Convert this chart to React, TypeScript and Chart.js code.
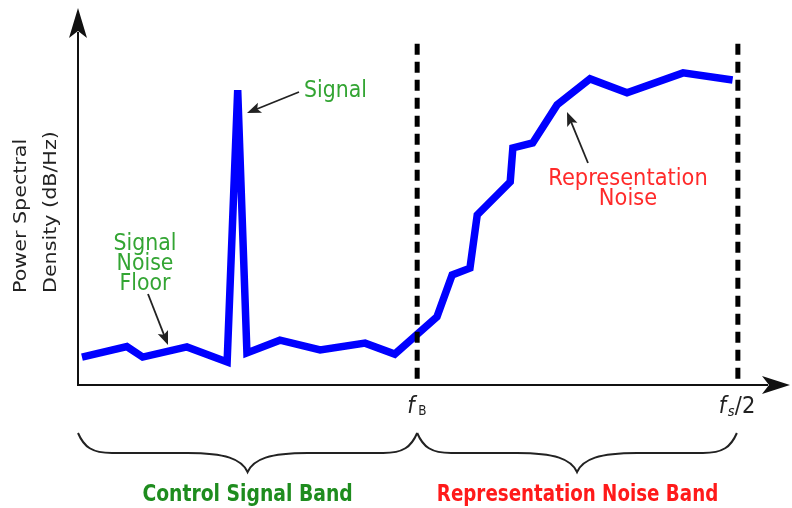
import React, { useEffect, useRef } from "react";
import { Chart, registerables } from "chart.js";

Chart.register(...registerables);

// Frequency (normalised so that fs/2 = 100) and power spectral density (0..100 arbitrary dB scale)
const FREQ = [0.6, 7.4, 9.8, 16.5, 22.6, 24.2, 25.6, 30.6, 36.7, 43.5, 48.0, 54.4, 56.7, 59.4, 60.5, 65.5, 65.9, 68.9, 72.6, 77.6, 83.2, 91.7, 99.2];
const PSD = [7.4, 10.2, 7.4, 10.1, 6.1, 78.2, 8.5, 11.9, 9.3, 11.1, 8.2, 18.1, 29.2, 31.0, 45.1, 53.9, 62.9, 64.2, 74.3, 81.2, 77.5, 82.8, 80.9];
const F_B = 51.4;
const F_S2 = 100;
const X_MAX = 107.9;
const Y_MAX = 100;
const MARKER_TOP = 90.5;
const BAND_LABELS = ["Control Signal Band", "Representation Noise Band"];

const FONT = "DejaVu Sans";

function txt(
  ctx: CanvasRenderingContext2D,
  s: string,
  x: number,
  y: number,
  font: string,
  color: string,
  align: CanvasTextAlign = "left",
  stretch = 1,
  rot = false
) {
  ctx.save();
  ctx.translate(x, y);
  if (rot) {
    ctx.rotate(-Math.PI / 2);
    ctx.scale(stretch, 1);
  } else {
    ctx.scale(1, stretch);
  }
  ctx.font = font;
  ctx.fillStyle = color;
  ctx.textAlign = align;
  ctx.textBaseline = "alphabetic";
  ctx.fillText(s, 0, 0);
  ctx.restore();
}

function arrowHead(ctx: CanvasRenderingContext2D, fx: number, fy: number, tx: number, ty: number, len: number, half: number, notch: number) {
  const a = Math.atan2(ty - fy, tx - fx);
  const c = Math.cos(a), s = Math.sin(a);
  const bx = tx - c * len, by = ty - s * len;
  ctx.beginPath();
  ctx.moveTo(tx, ty);
  ctx.lineTo(bx - s * half, by + c * half);
  ctx.lineTo(tx - c * (len - notch), ty - s * (len - notch));
  ctx.lineTo(bx + s * half, by - c * half);
  ctx.closePath();
  ctx.fill();
}

function pointer(ctx: CanvasRenderingContext2D, fx: number, fy: number, tx: number, ty: number) {
  ctx.save();
  ctx.strokeStyle = "#222";
  ctx.fillStyle = "#222";
  ctx.lineWidth = 1.8;
  const a = Math.atan2(ty - fy, tx - fx);
  ctx.beginPath();
  ctx.moveTo(fx, fy);
  ctx.lineTo(tx - Math.cos(a) * 8, ty - Math.sin(a) * 8);
  ctx.stroke();
  arrowHead(ctx, fx, fy, tx, ty, 14, 5.5, 3);
  ctx.restore();
}

function brace(ctx: CanvasRenderingContext2D, x0: number, x1: number, yTop: number, yFlat: number, yTip: number) {
  const xm = (x0 + x1) / 2;
  ctx.beginPath();
  ctx.moveTo(x0, yTop);
  ctx.bezierCurveTo(x0 + 6, yTop + 14, x0 + 14, yFlat, x0 + 34, yFlat);
  ctx.lineTo(xm - 60, yFlat);
  ctx.bezierCurveTo(xm - 22, yFlat, xm - 6, yFlat + 6, xm, yTip);
  ctx.bezierCurveTo(xm + 6, yFlat + 6, xm + 22, yFlat, xm + 60, yFlat);
  ctx.lineTo(x1 - 34, yFlat);
  ctx.bezierCurveTo(x1 - 14, yFlat, x1 - 6, yTop + 14, x1, yTop);
  ctx.stroke();
}

const overlay = {
  id: "overlay",
  afterDatasetsDraw(chart: any) {
    const ctx: CanvasRenderingContext2D = chart.ctx;
    const { left, right, top, bottom } = chart.chartArea;
    const xs = chart.scales.x;
    ctx.save();
    // axes
    ctx.strokeStyle = "#111";
    ctx.fillStyle = "#111";
    ctx.lineWidth = 2;
    ctx.beginPath();
    ctx.moveTo(left, bottom + 1);
    ctx.lineTo(left, top + 24);
    ctx.moveTo(left - 1, bottom);
    ctx.lineTo(right - 22, bottom);
    ctx.stroke();
    arrowHead(ctx, left, bottom, left, top, 30, 9, 7);
    arrowHead(ctx, left, bottom, right, bottom, 28, 9, 7);

    // axis title
    txt(ctx, "Power Spectral", 26, 293, `17.5px ${FONT}`, "#222", "left", 1.18, true);
    txt(ctx, "Density (dB/Hz)", 56, 293, `17.5px ${FONT}`, "#222", "left", 1.18, true);

    // frequency labels
    const fb = xs.getPixelForValue(F_B);
    const fs = xs.getPixelForValue(F_S2);
    txt(ctx, "f", fb - 10, bottom + 28, `italic 21px ${FONT}`, "#222", "left", 1.1);
    txt(ctx, "B", fb + 1, bottom + 30, `12px ${FONT}`, "#222", "left", 1.1);
    txt(ctx, "f", fs - 19, bottom + 28, `italic 21px ${FONT}`, "#222", "left", 1.1);
    txt(ctx, "s", fs - 10, bottom + 31, `italic 13px ${FONT}`, "#222", "left", 1.1);
    txt(ctx, "/2", fs - 3, bottom + 28, `21px ${FONT}`, "#222", "left", 1.1);

    // annotations
    const green = "#33a533";
    const red = "#ff2a2a";
    txt(ctx, "Signal", 304, 97, `20.5px ${FONT}`, green, "left", 1.15);
    pointer(ctx, 299, 92, 247, 113);
    txt(ctx, "Signal", 145, 250, `20.5px ${FONT}`, green, "center", 1.15);
    txt(ctx, "Noise", 145, 270, `20.5px ${FONT}`, green, "center", 1.15);
    txt(ctx, "Floor", 145, 290, `20.5px ${FONT}`, green, "center", 1.15);
    pointer(ctx, 148, 294, 168, 345);
    txt(ctx, "Representation", 628, 185, `21px ${FONT}`, red, "center", 1.12);
    txt(ctx, "Noise", 628, 205, `21px ${FONT}`, red, "center", 1.12);
    pointer(ctx, 588, 163, 567, 112);

    // braces
    ctx.strokeStyle = "#222";
    ctx.lineWidth = 2;
    brace(ctx, left, fb, 433, 453, 472);
    brace(ctx, fb, fs - 1, 433, 453, 472);
    txt(ctx, BAND_LABELS[0], (left + fb) / 2, 501, `bold 18.8px ${FONT}`, "#1e8c1e", "center", 1.22);
    txt(ctx, BAND_LABELS[1], (fb + fs) / 2, 501, `bold 18.3px ${FONT}`, "#ff1a1a", "center", 1.22);
    ctx.restore();
  },
};

export default function App() {
  const ref = useRef<HTMLCanvasElement | null>(null);
  useEffect(() => {
    if (!ref.current) return;
    const chart = new Chart(ref.current, {
      type: "line",
      data: {
        datasets: [
          {
            label: "f_B",
            data: [{ x: F_B, y: MARKER_TOP }, { x: F_B, y: 0 }],
            borderColor: "#000",
            borderWidth: 5,
            borderDash: [11, 7],
            borderCapStyle: "butt",
            pointRadius: 0,
            order: 0,
          },
          {
            label: "fs/2",
            data: [{ x: F_S2, y: MARKER_TOP }, { x: F_S2, y: 0 }],
            borderColor: "#000",
            borderWidth: 5,
            borderDash: [11, 7],
            borderCapStyle: "butt",
            pointRadius: 0,
            order: 0,
          },
          {
            label: "PSD",
            data: FREQ.map((f, i) => ({ x: f, y: PSD[i] })),
            borderColor: "#0000ff",
            borderWidth: 7.5,
            borderJoinStyle: "miter",
            pointRadius: 0,
            tension: 0,
            order: 1,
          },
        ],
      },
      options: {
        animation: false,
        responsive: false,
        maintainAspectRatio: false,
        layout: { padding: { left: 78, right: 2, top: 8, bottom: 123 } },
        plugins: { legend: { display: false }, tooltip: { enabled: false } },
        scales: {
          x: { type: "linear", min: 0, max: X_MAX, display: false },
          y: { type: "linear", min: 0, max: Y_MAX, display: false },
        },
      },
      plugins: [overlay],
    });
    return () => chart.destroy();
  }, []);
  return (
    <div style={{ position: "fixed", left: 0, top: 0, width: 792, height: 508, background: "#fff" }}>
      <canvas ref={ref} width={792} height={508} style={{ width: 792, height: 508, display: "block" }} />
    </div>
  );
}
